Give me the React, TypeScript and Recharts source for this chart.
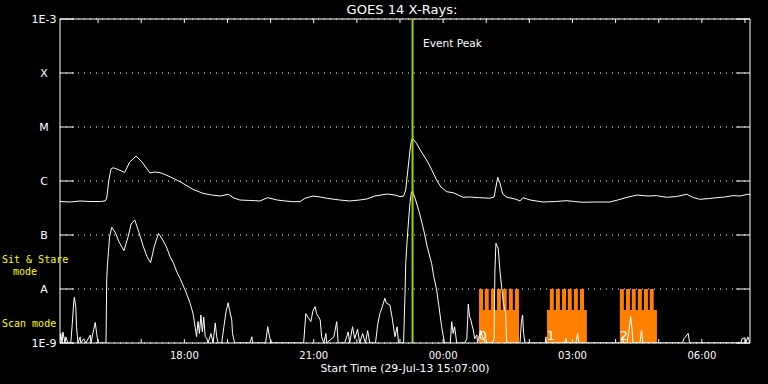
import React from 'react';
import { LineChart, Line, XAxis, YAxis, CartesianGrid, ReferenceLine, ReferenceArea } from 'recharts';

// time axis: minutes since start (29-Jul-13 15:07:00)
const START_MIN = 15 * 60 + 7;
const X_DOMAIN = [0, 960];
const hourTicks = [53, 113, 173, 233, 293, 353, 413, 473, 533, 593, 653, 713, 773, 833, 893, 953];

// log flux axis
const yTicks = [1e-9, 1e-8, 1e-7, 1e-6, 1e-5, 1e-4, 1e-3];
const yTickLabels = ['1E-9', 'A', 'B', 'C', 'M', 'X', '1E-3'];

// long channel (1-8 A)
const longT = [0, 14, 28, 42, 56, 63, 65, 68, 71, 74, 81, 90, 97, 106, 114, 125, 132, 139, 146, 153, 167, 185, 199, 211, 223, 234, 242, 250, 264, 278, 289, 302, 313, 324, 334, 341, 352, 362, 371, 389, 403, 417, 427, 438, 455, 466, 473, 478, 481, 484, 487, 489, 490.5, 496, 502, 510, 516, 524, 530, 538, 547, 554, 561, 570, 584, 598, 604, 607, 609, 612, 616, 622, 633, 640, 644, 654, 672, 689, 705, 716, 727, 744, 765, 776, 789, 803, 817, 830, 844, 858, 872, 881, 890, 904, 914, 925, 936, 946, 957, 960];
const longV = [4.17e-7, 4.08e-7, 4.27e-7, 4.17e-7, 4.17e-7, 4.27e-7, 4.84e-7, 1.04e-6, 1.67e-6, 1.76e-6, 1.63e-6, 1.44e-6, 2.25e-6, 2.9e-6, 2.25e-6, 1.41e-6, 1.47e-6, 1.43e-6, 1.32e-6, 1.2e-6, 9.7e-7, 7.0e-7, 5.9e-7, 5.5e-7, 5.27e-7, 5.68e-7, 4.84e-7, 4.45e-7, 4.36e-7, 4.27e-7, 4.91e-7, 4.45e-7, 4.27e-7, 4.14e-7, 4.14e-7, 4.79e-7, 5.27e-7, 5.06e-7, 4.79e-7, 4.45e-7, 4.27e-7, 4.45e-7, 4.65e-7, 5.27e-7, 5.74e-7, 5.5e-7, 5.12e-7, 5.27e-7, 6.8e-7, 1.6e-6, 3.75e-6, 5.74e-6, 6.18e-6, 4.99e-6, 3.6e-6, 2.45e-6, 1.74e-6, 1.04e-6, 7.74e-7, 6.34e-7, 6.07e-7, 5.5e-7, 4.99e-7, 5.06e-7, 4.91e-7, 4.79e-7, 5.06e-7, 8.43e-7, 1.17e-6, 9.18e-7, 5.74e-7, 4.99e-7, 4.65e-7, 4.27e-7, 4.91e-7, 4.45e-7, 4.08e-7, 4.17e-7, 4.32e-7, 4.17e-7, 4.04e-7, 4.08e-7, 4.08e-7, 4.45e-7, 4.99e-7, 5.5e-7, 5.27e-7, 5.35e-7, 4.99e-7, 5.16e-7, 5.68e-7, 4.94e-7, 4.58e-7, 4.74e-7, 4.91e-7, 5.06e-7, 5.35e-7, 5.27e-7, 5.68e-7, 5.62e-7];

// short channel (0.5-4 A)
const shortT = [0, 1, 3, 4, 7, 8, 11, 15, 17, 19, 20, 22, 23, 25, 28, 29, 33, 36, 42, 43, 47, 49, 51, 53, 64, 65, 66, 69, 72, 77, 82, 89, 95, 99, 104, 110, 116, 121, 126, 131, 137, 142, 148, 153, 158, 163, 167, 174, 178, 181, 185, 188, 190, 192, 194, 196, 198, 200, 202, 204, 206, 210, 213, 216, 218, 220, 225, 228, 231, 234, 236, 239, 240, 243, 264, 267, 268, 286, 289, 292, 295, 337, 339, 342, 345, 349, 352, 355, 357, 362, 364, 367, 370, 371, 381, 385, 387, 396, 401, 403, 407, 410, 414, 417, 421, 425, 428, 431, 439, 442, 445, 448, 452, 454, 459, 462, 466, 469, 471, 478, 480, 481, 483, 485, 487, 489, 490.5, 494, 500, 506, 511, 517, 520, 524, 527, 531, 535, 543, 545, 547, 549, 552, 563, 566, 568, 570, 571, 573, 575, 577, 580, 581, 585, 588, 592, 601, 604, 605, 606.5, 609.7, 612, 614.4, 617, 620, 621.5, 640, 642, 643.6, 645, 647, 675, 676, 677, 702, 704, 705, 718, 720, 722, 781, 783, 784, 789, 791, 794, 796, 797, 807, 809, 811, 866, 868, 874, 876, 947, 949, 953, 954, 957, 960];
const shortV = [1e-9, 1.5e-9, 1e-9, 1.6e-9, 1e-9, 1.3e-9, 1e-9, 1e-9, 2.2e-9, 5.5e-9, 7.0e-9, 4.5e-9, 2.0e-9, 1e-9, 1.3e-9, 1e-9, 1.2e-9, 1e-9, 1.4e-9, 1e-9, 1.8e-9, 2.4e-9, 1.5e-9, 1e-9, 1e-9, 1.5e-8, 2.78e-8, 9.3e-8, 1.39e-7, 1.1e-7, 7.5e-8, 5.12e-8, 9.5e-8, 1.6e-7, 1.9e-7, 1.1e-7, 6.07e-8, 4.0e-8, 3.07e-8, 6.0e-8, 1.07e-7, 8.5e-8, 6.07e-8, 4.0e-8, 2.99e-8, 2.0e-8, 1.58e-8, 9.6e-9, 7.0e-9, 5.43e-9, 3.55e-9, 2.0e-9, 1.31e-9, 2.5e-9, 1.5e-9, 3.3e-9, 1.6e-9, 3.0e-9, 1.3e-9, 1.24e-9, 1e-9, 1.5e-9, 1e-9, 2.35e-9, 1.3e-9, 1e-9, 1e-9, 2.0e-9, 3.8e-9, 5.57e-9, 4.0e-9, 2.67e-9, 1.5e-9, 1e-9, 1e-9, 1.3e-9, 1e-9, 1e-9, 2.0e-9, 1.2e-9, 1e-9, 1e-9, 1e-9, 3.5e-9, 3.0e-9, 2.5e-9, 4.0e-9, 4.7e-9, 3.5e-9, 2.67e-9, 1.3e-9, 1e-9, 1.5e-9, 1e-9, 1.3e-9, 2.48e-9, 1e-9, 1e-9, 1.6e-9, 1e-9, 2e-9, 1.2e-9, 1.8e-9, 1e-9, 1.5e-9, 1e-9, 1.7e-9, 1e-9, 1e-9, 2.2e-9, 3.5e-9, 4.5e-9, 6.73e-9, 5.5e-9, 5.06e-9, 3.0e-9, 1.31e-9, 2.0e-9, 1e-9, 1e-9, 8e-9, 2.99e-8, 8e-8, 1.9e-7, 4.0e-7, 6.34e-7, 6.5e-7, 4.79e-7, 2.6e-7, 1.24e-7, 6.0e-8, 2.99e-8, 1.7e-8, 9.6e-9, 5e-9, 2.0e-9, 1e-9, 1e-9, 2.48e-9, 1.5e-9, 2e-9, 1e-9, 1e-9, 1.2e-9, 5.27e-9, 3.0e-9, 2.9e-9, 2.2e-9, 1.74e-9, 1.2e-9, 1.41e-9, 1e-9, 1.7e-9, 1.3e-9, 1e-9, 1e-9, 1.2e-9, 2e-8, 7.02e-8, 5.67e-8, 2.25e-8, 1.1e-8, 5.43e-9, 3.55e-9, 1e-9, 1e-9, 2.5e-9, 3.3e-9, 1.5e-9, 1e-9, 1e-9, 1.3e-9, 1e-9, 1e-9, 1.2e-9, 1e-9, 1e-9, 1.5e-9, 1e-9, 1e-9, 1.3e-9, 1e-9, 1e-9, 1.5e-9, 3.07e-9, 1.74e-9, 1e-9, 1e-9, 1.74e-9, 1e-9, 1e-9, 1.2e-9, 1.5e-9, 1e-9, 1e-9, 1.2e-9, 1.25e-9, 1e-9, 1.3e-9, 1e-9];

// event peak
const peakT = 490.5;

// scan mode blocks (sit & stare / scan indicator)
const scanBlockStart = [583, 677.5, 779];
const scanBlockEnd = [638.5, 733, 830.5];
const scanBlockNames = ['0', '1', '2'];
const toothStart = [583, 591, 599.5, 608, 616, 624.5, 633, 681.5, 690, 698.5, 706.5, 715, 723.5, 779, 787.5, 795.5, 804, 812.5, 820.5];
const toothEnd = [588.5, 596.5, 605, 613.5, 621.5, 630, 638.5, 687, 695.5, 704, 712, 720.5, 729, 784.5, 793, 801, 809.5, 818, 826];
const scanBaseLevel = 4.1e-9;
const scanTopLevel = 1e-8;
const FLOOR = 1e-9;

const PLOT = { left: 60, right: 750, top: 19, bottom: 343 };
const FONT = 'DejaVu Sans, sans-serif';
const MONO = 'DejaVu Sans Mono, monospace';

const pad = (n: number) => (n < 10 ? '0' + n : '' + n);
const fmtTime = (m: number) => {
  const tot = START_MIN + m;
  const h = Math.floor(tot / 60) % 24;
  const mm = Math.round(tot % 60);
  return pad(h) + ':' + pad(mm);
};

const longTable = longT.map((t, i) => ({ t, v: longV[i] }));
const shortTable = shortT.map((t, i) => ({ t, v: shortV[i] }));

const renderXTick = (props: any) => {
  const { x, payload } = props;
  const label = fmtTime(payload.value);
  const hour = Math.floor((START_MIN + payload.value) / 60) % 24;
  return (
    <g>
      <line x1={x} x2={x} y1={PLOT.bottom} y2={PLOT.bottom - 4} stroke="#fff" />
      <line x1={x} x2={x} y1={PLOT.top} y2={PLOT.top + 4} stroke="#fff" />
      {hour % 3 === 0 ? (
        <text x={x} y={359} textAnchor="middle" fill="#fff" fontSize={10} fontFamily={FONT}>
          {label}
        </text>
      ) : null}
    </g>
  );
};

const renderYTick = (props: any) => {
  const { y, payload } = props;
  const idx = yTicks.findIndex((v) => Math.abs(Math.log10(v) - Math.log10(payload.value)) < 1e-6);
  return (
    <g>
      <line x1={PLOT.left} x2={PLOT.left + 14} y1={y} y2={y} stroke="#fff" />
      <line x1={PLOT.right - 14} x2={PLOT.right} y1={y} y2={y} stroke="#fff" />
      <text x={44} y={y + 4} textAnchor="middle" fill="#ffffff" fontSize={11} fontFamily={FONT}>
        {idx >= 0 ? yTickLabels[idx] : ''}
      </text>
    </g>
  );
};

export default function App() {
  return (
    <div style={{ position: 'fixed', left: 0, top: 0, width: 768, height: 384, background: '#000', overflow: 'hidden' }}>
      <LineChart width={768} height={384} margin={{ top: 19, right: 18, bottom: 11, left: 0 }}>
        <CartesianGrid horizontal vertical={false} stroke="#fff" strokeDasharray="1 5" />
        <XAxis
          dataKey="t"
          type="number"
          domain={X_DOMAIN}
          ticks={hourTicks}
          interval={0}
          tick={renderXTick}
          tickLine={false}
          axisLine={{ stroke: '#fff' }}
          height={30}
          allowDataOverflow
        />
        <YAxis
          type="number"
          scale="log"
          domain={[1e-9, 1e-3]}
          ticks={yTicks}
          interval={0}
          tick={renderYTick}
          tickLine={false}
          axisLine={{ stroke: '#fff' }}
          width={60}
          allowDataOverflow
        />
        {scanBlockStart.map((s, i) => (
          <ReferenceArea
            key={'b' + i}
            x1={s}
            x2={scanBlockEnd[i]}
            y1={FLOOR}
            y2={scanBaseLevel}
            fill="#ff8000"
            fillOpacity={1}
            stroke="none"
          />
        ))}
        {toothStart.map((s, i) => (
          <ReferenceArea
            key={'t' + i}
            x1={s}
            x2={toothEnd[i]}
            y1={FLOOR}
            y2={scanTopLevel}
            fill="#ff8000"
            fillOpacity={1}
            stroke="none"
          />
        ))}
        <ReferenceLine y={1e-3} stroke="#fff" />
        <ReferenceLine x={960} stroke="#fff" />
        <Line data={shortTable} dataKey="v" type="linear" stroke="#fff" strokeWidth={1} dot={false} isAnimationActive={false} />
        <Line data={longTable} dataKey="v" type="linear" stroke="#fff" strokeWidth={1} dot={false} isAnimationActive={false} />
        <ReferenceLine x={peakT} stroke="#a0d000" strokeWidth={2} />
      </LineChart>
      <svg width={768} height={384} style={{ position: 'absolute', left: 0, top: 0, pointerEvents: 'none' }}>
        <text x={402} y={14} textAnchor="middle" fill="#fff" fontSize={13} fontFamily={FONT} textLength={111} lengthAdjust="spacingAndGlyphs">
          GOES 14 X-Rays:
        </text>
        <text x={423} y={47} fill="#fff" fontSize={11} fontFamily={FONT} textLength={59} lengthAdjust="spacingAndGlyphs">
          Event Peak
        </text>
        <text x={405} y={372} textAnchor="middle" fill="#fff" fontSize={11} fontFamily={FONT} textLength={169} lengthAdjust="spacingAndGlyphs">
          Start Time (29-Jul-13 15:07:00)
        </text>
        <text x={2} y={263} fill="#ffff00" fontSize={10} fontFamily={MONO}>
          Sit &amp; Stare
        </text>
        <text x={13} y={275} fill="#ffff00" fontSize={10} fontFamily={MONO}>
          mode
        </text>
        <text x={2} y={327} fill="#ffff00" fontSize={10} fontFamily={MONO}>
          Scan mode
        </text>
        <text x={483} y={340} textAnchor="middle" fill="#fff" fontSize={13} fontFamily={FONT}>
          {scanBlockNames[0]}
        </text>
        <text x={551} y={340} textAnchor="middle" fill="#fff" fontSize={13} fontFamily={FONT}>
          {scanBlockNames[1]}
        </text>
        <text x={624} y={340} textAnchor="middle" fill="#fff" fontSize={13} fontFamily={FONT}>
          {scanBlockNames[2]}
        </text>
      </svg>
    </div>
  );
}
